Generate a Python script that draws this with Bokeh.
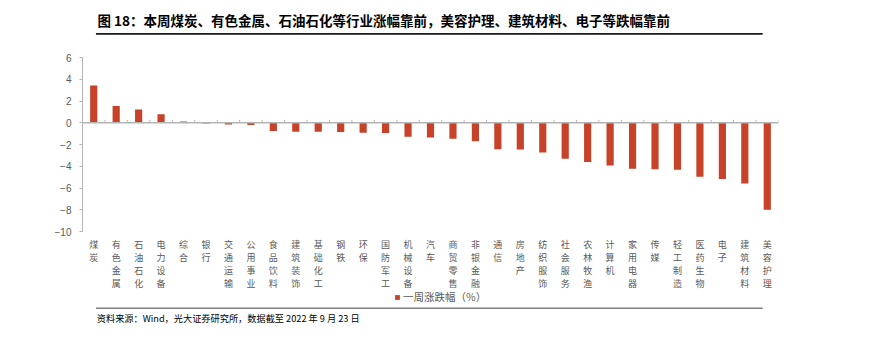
from bokeh.plotting import figure
from bokeh.layouts import column
from bokeh.models import (ColumnDataSource, FactorRange, Range1d, Span,
                          Legend, LegendItem, FixedTicker)
from bokeh.core.properties import value
from bokeh.transform import dodge
from bokeh.embed import file_html
from bokeh.resources import INLINE

# ---- data ----
industries = ["煤炭", "有色金属", "石油石化", "电力设备", "综合", "银行", "交通运输", "公用事业",
              "食品饮料", "建筑装饰", "基础化工", "钢铁", "环保", "国防军工", "机械设备", "汽车",
              "商贸零售", "非银金融", "通信", "房地产", "纺织服饰", "社会服务", "农林牧渔", "计算机",
              "家用电器", "传媒", "轻工制造", "医药生物", "电子", "建筑材料", "美容护理"]
weekly_change = [3.43, 1.53, 1.22, 0.79, 0.12, -0.08, -0.17, -0.20,
                 -0.77, -0.83, -0.83, -0.86, -0.92, -0.95, -1.29, -1.35,
                 -1.47, -1.69, -2.43, -2.46, -2.73, -3.31, -3.62, -3.93,
                 -4.24, -4.27, -4.33, -4.97, -5.18, -5.58, -8.00]
y_ticks = [-10, -8, -6, -4, -2, 0, 2, 4, 6]
y_min, y_max = -10, 6
series_name = "一周涨跌幅（%）"
title_text = "图 18：本周煤炭、有色金属、石油石化等行业涨幅靠前，美容护理、建筑材料、电子等跌幅靠前"
source_text = "资料来源：Wind，光大证券研究所，数据截至 2022 年 9 月 23 日"

BAR = "#C6432A"
GREY_TXT = "#595959"
AXIS = "#B4B4B4"
CJK = "Noto Sans CJK SC"

W = 879
HEAD_H = 40        # title strip
FOOT_H = 37        # source-note strip
MAIN_H = 343 - HEAD_H - FOOT_H
FL, FR = 82, 778                 # frame left / right (canvas px)
TOP_PX, AXIS_BOTTOM_PX = 57, 231  # canvas px of y_max and y_min
FRAME_TOP = TOP_PX - HEAD_H
FRAME_H = MAIN_H - FRAME_TOP
ppu = (AXIS_BOTTOM_PX - TOP_PX) / (y_max - y_min)
y_low = y_max - FRAME_H / ppu


def strip(h):
    f = figure(width=W, height=h, x_range=Range1d(0, W), y_range=Range1d(h, 0),
               output_backend="svg", toolbar_location=None, x_axis_type=None,
               y_axis_type=None, min_border=0, title=None)
    f.outline_line_color = None
    f.xgrid.visible = False
    f.ygrid.visible = False
    return f


# ---- header ----
head = strip(HEAD_H)
head.text(x=[19], y=[19.5], text=[title_text], text_font=value(CJK),
          text_font_size=value("13.5px"), text_font_style="bold",
          text_color="#000000", text_baseline="middle", text_align="left")
head.segment(x0=[17], y0=[33.4], x1=[859], y1=[33.4], line_color="#1A1A1A", line_width=1.6)

# ---- main chart ----
src = ColumnDataSource(dict(
    cat=industries, val=weekly_change,
    zero=[0] * len(industries), tick=[0.25] * len(industries),
    lab=["\n".join(c) for c in industries],
    lab_y=[y_min - 6 / ppu] * len(industries)))

p = figure(width=W, height=MAIN_H, x_range=FactorRange(factors=industries),
           y_range=Range1d(y_low, y_max), output_backend="svg", toolbar_location=None,
           min_border_left=FL, min_border_right=W - FR, min_border_top=FRAME_TOP,
           min_border_bottom=0, x_axis_location=None, title=None)
p.outline_line_color = None
p.xgrid.visible = False
p.ygrid.visible = False

bars = p.vbar(x="cat", top="val", width=0.32, source=src, fill_color=BAR, line_color=None)

p.add_layout(Span(location=0, dimension="width", line_color=AXIS, line_width=1.5))
p.segment(x0=dodge("cat", 0.5, range=p.x_range), y0="zero",
          x1=dodge("cat", 0.5, range=p.x_range), y1="tick",
          source=src, line_color=AXIS, line_width=1)

p.text(x="cat", y="lab_y", text="lab", source=src, text_font=value(CJK),
       text_font_size=value("9px"), text_color=GREY_TXT, text_align="center",
       text_baseline="top", text_line_height=1.0)

ya = p.yaxis[0]
ya.ticker = FixedTicker(ticks=y_ticks)
ya.bounds = (y_min, y_max)
ya.axis_line_color = AXIS
ya.major_tick_line_color = AXIS
ya.major_tick_in = 0
ya.major_tick_out = 3
ya.minor_tick_line_color = None
ya.major_label_text_font = "Liberation Sans"
ya.major_label_text_font_size = "10px"
ya.major_label_text_color = GREY_TXT
ya.major_label_standoff = 8

legend = Legend(items=[LegendItem(label=series_name, renderers=[bars])],
                location=(394 - FL, 2), orientation="horizontal",
                padding=0, margin=0, glyph_width=6, glyph_height=6, label_standoff=3,
                border_line_color=None, background_fill_alpha=0,
                label_text_font=CJK, label_text_font_size="10.5px",
                label_text_color=GREY_TXT)
p.add_layout(legend)

# ---- footer ----
foot = strip(FOOT_H)
foot.segment(x0=[17], y0=[1.7], x1=[859], y1=[1.7], line_color="#808080", line_width=1.5)
foot.text(x=[18], y=[11.5], text=[source_text], text_font=value(CJK),
          text_font_size=value("9.2px"), text_color="#000000",
          text_baseline="middle", text_align="left")

layout = column(head, p, foot, spacing=0)
open("out.html", "w").write(file_html(layout, INLINE))
